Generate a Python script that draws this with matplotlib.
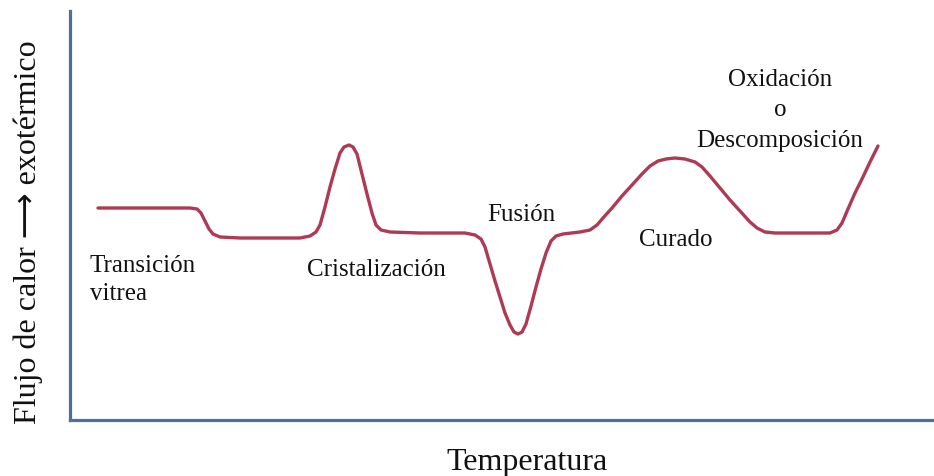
import matplotlib
matplotlib.use("Agg")
import matplotlib.pyplot as plt

# Temperature (arbitrary units) and heat flow (arbitrary units, exothermic up)
temperature = [98, 190, 197, 201, 205, 209, 213, 220, 240, 300, 310, 316, 320, 325, 330,
               335, 340, 344, 349, 353, 357, 362, 367, 372, 376, 381, 390, 420, 465, 475,
               481, 485, 490, 495, 500, 505, 510, 514, 518, 522, 526, 531, 536, 541, 546,
               551, 556, 563, 580, 590, 597, 603, 612, 622, 632, 642, 650, 658, 666, 675,
               685, 695, 702, 710, 720, 730, 740, 750, 757, 765, 775, 830, 837, 842, 848,
               855, 862, 870, 878]
curve_px = [209, 209, 210, 214, 222, 230, 235, 238, 239, 239, 237, 233, 226, 208, 188,
            170, 154, 148, 146, 148, 155, 175, 195, 214, 226, 231, 233, 234, 234, 236,
            240, 248, 265, 282, 298, 314, 326, 333, 335, 333, 325, 307, 288, 270, 254,
            242, 237, 235, 233, 231, 226, 219, 209, 197, 186, 175, 167, 162, 160, 159,
            160, 163, 168, 177, 189, 201, 212, 223, 229, 233, 234, 234, 231, 224, 210,
            194, 180, 163, 147]
heat_flow = [421 - v for v in curve_px]

labels = ["Transición\nvitrea", "Cristalización", "Fusión", "Curado",
          "Oxidación\no\nDescomposición"]
label_x = [90, 376, 521, 676, 780]
label_y = [421 - 280, 421 - 270, 421 - 215, 421 - 240, 421 - 110]
label_ha = ["left", "center", "center", "center", "center"]
label_ma = ["left", "center", "center", "center", "center"]
label_ls = [1.38, 1.2, 1.2, 1.2, 1.5]

W, H = 934, 477
fig = plt.figure(figsize=(W / 100, H / 100), dpi=100)
left, right, top, bottom = 70, 934, 12, 421
ax = fig.add_axes([left / W, (H - bottom) / H, (right - left) / W, (bottom - top) / H])
ax.set_xlim(left, right)
ax.set_ylim(0, bottom - top)

axis_col = "#4F6E9A"
for s in ["top", "right"]:
    ax.spines[s].set_visible(False)
for s in ["left", "bottom"]:
    ax.spines[s].set_color(axis_col)
    ax.spines[s].set_linewidth(2.3)
ax.set_xticks([])
ax.set_yticks([])

ax.plot(temperature, heat_flow, color="#AE3A55", lw=2.4,
        solid_joinstyle="round", solid_capstyle="round")

serif = ["Liberation Serif", "DejaVu Serif"]
for t, x, y, ha, ma, ls in zip(labels, label_x, label_y, label_ha, label_ma, label_ls):
    ax.text(x, y, t, ha=ha, va="center", fontsize=18, family=serif,
            color="#111111", linespacing=ls, multialignment=ma)

fig.text(527 / W, 1 - 463 / H, "Temperatura", ha="center", va="center",
         fontsize=23, family=serif, color="#111111")
fig.text(28 / W, 1 - 232 / H, "Flujo de calor \u27f6 exotérmico", ha="center",
         va="center", rotation=90, fontsize=23,
         family=["Liberation Serif", "DejaVu Sans"], color="#111111")

fig.savefig("out.png", dpi=100)
